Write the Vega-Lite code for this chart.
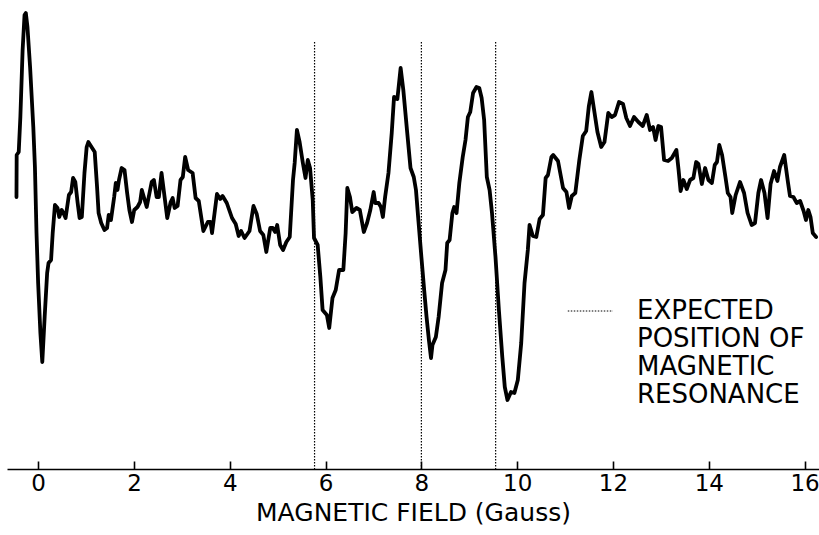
{
  "$schema": "https://vega.github.io/schema/vega-lite/v6.json",
  "width": 812,
  "height": 469,
  "autosize": {"type": "none"},
  "padding": {"left": 7, "top": 0, "right": 0, "bottom": 66},
  "background": "white",
  "config": {
    "view": {"stroke": null},
    "font": "DejaVu Sans",
    "axis": {"grid": false}
  },
  "layer": [
    {
      "data": {"values": [
        {"B": -0.452, "S": 272}, {"B": -0.448, "S": 314}, {"B": -0.405, "S": 317}, {"B": -0.371, "S": 352},
        {"B": -0.324, "S": 419}, {"B": -0.284, "S": 454}, {"B": -0.257, "S": 456}, {"B": -0.223, "S": 442},
        {"B": -0.168, "S": 402}, {"B": -0.101, "S": 342}, {"B": -0.067, "S": 302}, {"B": -0.034, "S": 236},
        {"B": 0.000, "S": 186}, {"B": 0.047, "S": 136}, {"B": 0.087, "S": 107}, {"B": 0.136, "S": 152},
        {"B": 0.188, "S": 196}, {"B": 0.217, "S": 206}, {"B": 0.270, "S": 209}, {"B": 0.304, "S": 236},
        {"B": 0.351, "S": 264}, {"B": 0.405, "S": 261}, {"B": 0.440, "S": 252}, {"B": 0.492, "S": 259},
        {"B": 0.527, "S": 256}, {"B": 0.573, "S": 251}, {"B": 0.642, "S": 274}, {"B": 0.689, "S": 277},
        {"B": 0.729, "S": 291}, {"B": 0.776, "S": 287}, {"B": 0.825, "S": 266}, {"B": 0.865, "S": 251},
        {"B": 0.912, "S": 252}, {"B": 0.967, "S": 296}, {"B": 1.013, "S": 322}, {"B": 1.048, "S": 327},
        {"B": 1.114, "S": 322}, {"B": 1.181, "S": 317}, {"B": 1.230, "S": 282}, {"B": 1.262, "S": 256},
        {"B": 1.317, "S": 246}, {"B": 1.384, "S": 239}, {"B": 1.439, "S": 241}, {"B": 1.473, "S": 254},
        {"B": 1.520, "S": 249}, {"B": 1.587, "S": 272}, {"B": 1.621, "S": 286}, {"B": 1.656, "S": 279},
        {"B": 1.688, "S": 289}, {"B": 1.743, "S": 301}, {"B": 1.803, "S": 299}, {"B": 1.858, "S": 276},
        {"B": 1.905, "S": 259}, {"B": 1.959, "S": 247}, {"B": 2.006, "S": 259}, {"B": 2.074, "S": 262},
        {"B": 2.129, "S": 267}, {"B": 2.164, "S": 279}, {"B": 2.267, "S": 262}, {"B": 2.370, "S": 287},
        {"B": 2.417, "S": 289}, {"B": 2.473, "S": 272}, {"B": 2.520, "S": 272}, {"B": 2.576, "S": 296},
        {"B": 2.629, "S": 276}, {"B": 2.695, "S": 251}, {"B": 2.767, "S": 267}, {"B": 2.808, "S": 271},
        {"B": 2.849, "S": 261}, {"B": 2.911, "S": 263}, {"B": 2.972, "S": 289}, {"B": 3.020, "S": 292},
        {"B": 3.069, "S": 312}, {"B": 3.131, "S": 299}, {"B": 3.225, "S": 296}, {"B": 3.287, "S": 271},
        {"B": 3.353, "S": 268}, {"B": 3.449, "S": 238}, {"B": 3.542, "S": 247}, {"B": 3.599, "S": 247},
        {"B": 3.630, "S": 236}, {"B": 3.733, "S": 275}, {"B": 3.801, "S": 270}, {"B": 3.850, "S": 273},
        {"B": 3.938, "S": 266}, {"B": 4.047, "S": 251}, {"B": 4.124, "S": 245}, {"B": 4.186, "S": 233},
        {"B": 4.237, "S": 238}, {"B": 4.309, "S": 231}, {"B": 4.412, "S": 238}, {"B": 4.495, "S": 263},
        {"B": 4.563, "S": 255}, {"B": 4.633, "S": 238}, {"B": 4.701, "S": 234}, {"B": 4.763, "S": 217},
        {"B": 4.845, "S": 241}, {"B": 4.897, "S": 241}, {"B": 4.948, "S": 237}, {"B": 4.990, "S": 244},
        {"B": 5.052, "S": 224}, {"B": 5.113, "S": 219}, {"B": 5.181, "S": 227}, {"B": 5.252, "S": 232},
        {"B": 5.320, "S": 289}, {"B": 5.355, "S": 306}, {"B": 5.402, "S": 339}, {"B": 5.458, "S": 327},
        {"B": 5.526, "S": 306}, {"B": 5.581, "S": 291}, {"B": 5.629, "S": 309}, {"B": 5.676, "S": 301},
        {"B": 5.732, "S": 269}, {"B": 5.759, "S": 231}, {"B": 5.835, "S": 224}, {"B": 5.891, "S": 192},
        {"B": 5.938, "S": 159}, {"B": 6.027, "S": 154}, {"B": 6.076, "S": 141}, {"B": 6.144, "S": 171},
        {"B": 6.212, "S": 179}, {"B": 6.282, "S": 199}, {"B": 6.371, "S": 199}, {"B": 6.419, "S": 236},
        {"B": 6.454, "S": 281}, {"B": 6.509, "S": 272}, {"B": 6.557, "S": 257}, {"B": 6.645, "S": 261},
        {"B": 6.715, "S": 259}, {"B": 6.798, "S": 237}, {"B": 6.866, "S": 246}, {"B": 6.934, "S": 259},
        {"B": 7.004, "S": 277}, {"B": 7.037, "S": 266}, {"B": 7.107, "S": 266}, {"B": 7.155, "S": 262},
        {"B": 7.196, "S": 252}, {"B": 7.243, "S": 272}, {"B": 7.313, "S": 296}, {"B": 7.381, "S": 336},
        {"B": 7.429, "S": 372}, {"B": 7.499, "S": 370}, {"B": 7.567, "S": 401}, {"B": 7.623, "S": 379},
        {"B": 7.705, "S": 336}, {"B": 7.773, "S": 301}, {"B": 7.841, "S": 292}, {"B": 7.887, "S": 279},
        {"B": 7.932, "S": 252}, {"B": 8.000, "S": 212}, {"B": 8.058, "S": 179}, {"B": 8.108, "S": 152},
        {"B": 8.157, "S": 129}, {"B": 8.201, "S": 111}, {"B": 8.231, "S": 124}, {"B": 8.302, "S": 132},
        {"B": 8.360, "S": 152}, {"B": 8.432, "S": 186}, {"B": 8.503, "S": 199}, {"B": 8.539, "S": 226},
        {"B": 8.589, "S": 229}, {"B": 8.647, "S": 256}, {"B": 8.684, "S": 262}, {"B": 8.734, "S": 256},
        {"B": 8.792, "S": 286}, {"B": 8.863, "S": 312}, {"B": 8.921, "S": 329}, {"B": 8.971, "S": 352},
        {"B": 9.020, "S": 357}, {"B": 9.079, "S": 376}, {"B": 9.150, "S": 382}, {"B": 9.208, "S": 381},
        {"B": 9.258, "S": 371}, {"B": 9.310, "S": 349}, {"B": 9.366, "S": 292}, {"B": 9.424, "S": 279},
        {"B": 9.474, "S": 256}, {"B": 9.547, "S": 212}, {"B": 9.618, "S": 159}, {"B": 9.689, "S": 112},
        {"B": 9.741, "S": 82}, {"B": 9.797, "S": 69}, {"B": 9.871, "S": 77}, {"B": 9.942, "S": 76},
        {"B": 10.013, "S": 89}, {"B": 10.084, "S": 126}, {"B": 10.153, "S": 186}, {"B": 10.222, "S": 219},
        {"B": 10.258, "S": 244}, {"B": 10.327, "S": 233}, {"B": 10.399, "S": 232}, {"B": 10.468, "S": 250},
        {"B": 10.537, "S": 254}, {"B": 10.594, "S": 291}, {"B": 10.642, "S": 294}, {"B": 10.714, "S": 312},
        {"B": 10.751, "S": 314}, {"B": 10.852, "S": 308}, {"B": 10.957, "S": 281}, {"B": 11.028, "S": 277},
        {"B": 11.083, "S": 261}, {"B": 11.140, "S": 273}, {"B": 11.213, "S": 276}, {"B": 11.297, "S": 309},
        {"B": 11.370, "S": 333}, {"B": 11.440, "S": 338}, {"B": 11.496, "S": 363}, {"B": 11.549, "S": 377},
        {"B": 11.612, "S": 357}, {"B": 11.675, "S": 337}, {"B": 11.754, "S": 322}, {"B": 11.822, "S": 327},
        {"B": 11.901, "S": 356}, {"B": 11.973, "S": 352}, {"B": 12.042, "S": 354}, {"B": 12.125, "S": 367},
        {"B": 12.209, "S": 365}, {"B": 12.278, "S": 351}, {"B": 12.355, "S": 343}, {"B": 12.439, "S": 352},
        {"B": 12.529, "S": 347}, {"B": 12.621, "S": 343}, {"B": 12.704, "S": 354}, {"B": 12.773, "S": 339},
        {"B": 12.836, "S": 342}, {"B": 12.888, "S": 329}, {"B": 12.947, "S": 343}, {"B": 13.003, "S": 342},
        {"B": 13.066, "S": 309}, {"B": 13.149, "S": 308}, {"B": 13.227, "S": 311}, {"B": 13.323, "S": 319},
        {"B": 13.369, "S": 299}, {"B": 13.411, "S": 278}, {"B": 13.469, "S": 289}, {"B": 13.540, "S": 280},
        {"B": 13.609, "S": 289}, {"B": 13.678, "S": 291}, {"B": 13.735, "S": 307}, {"B": 13.783, "S": 305},
        {"B": 13.854, "S": 285}, {"B": 13.923, "S": 301}, {"B": 13.992, "S": 289}, {"B": 14.064, "S": 286},
        {"B": 14.123, "S": 304}, {"B": 14.170, "S": 307}, {"B": 14.219, "S": 324}, {"B": 14.277, "S": 314},
        {"B": 14.347, "S": 292}, {"B": 14.396, "S": 276}, {"B": 14.453, "S": 272}, {"B": 14.489, "S": 256},
        {"B": 14.560, "S": 274}, {"B": 14.651, "S": 287}, {"B": 14.736, "S": 276}, {"B": 14.809, "S": 256},
        {"B": 14.894, "S": 244}, {"B": 14.964, "S": 246}, {"B": 15.034, "S": 276}, {"B": 15.091, "S": 289},
        {"B": 15.162, "S": 276}, {"B": 15.226, "S": 251}, {"B": 15.289, "S": 285}, {"B": 15.362, "S": 298},
        {"B": 15.432, "S": 288}, {"B": 15.485, "S": 302}, {"B": 15.574, "S": 314}, {"B": 15.651, "S": 287},
        {"B": 15.694, "S": 273}, {"B": 15.766, "S": 272}, {"B": 15.836, "S": 266}, {"B": 15.906, "S": 268},
        {"B": 15.979, "S": 258}, {"B": 16.028, "S": 249}, {"B": 16.077, "S": 259}, {"B": 16.123, "S": 252},
        {"B": 16.170, "S": 236}, {"B": 16.240, "S": 232}
      ]},
      "mark": {"type": "line", "color": "black", "strokeWidth": 3.8, "strokeJoin": "round", "strokeCap": "round"},
      "encoding": {
        "x": {
          "field": "B", "type": "quantitative",
          "scale": {"domain": [-0.65, 16.3], "nice": false, "zero": false},
          "axis": {
            "title": "MAGNETIC FIELD  (Gauss)",
            "values": [0, 2, 4, 6, 8, 10, 12, 14, 16],
            "domainColor": "black", "domainWidth": 1.6,
            "tickColor": "black", "tickWidth": 1.6, "tickSize": -8,
            "labelColor": "black", "labelFontSize": 23, "labelFont": "DejaVu Sans",
            "labelPadding": 11, "labelFontWeight": "normal",
            "titleColor": "black", "titleFontSize": 25, "titleFont": "DejaVu Sans",
            "titleFontWeight": "normal", "titlePadding": 5
          }
        },
        "y": {
          "field": "S", "type": "quantitative",
          "scale": {"domain": [0, 469], "nice": false, "zero": true},
          "axis": null
        }
      }
    },
    {
      "data": {"values": [{"resonance": 5.77}, {"resonance": 8.0}, {"resonance": 9.55}]},
      "mark": {"type": "rule", "color": "black", "strokeWidth": 1.2, "strokeDash": [1.5, 1.5]},
      "encoding": {
        "x": {"field": "resonance", "type": "quantitative"},
        "y": {"datum": 427},
        "y2": {"datum": 0}
      }
    },
    {
      "data": {"values": [{}]},
      "mark": {"type": "rule", "color": "black", "strokeWidth": 1, "strokeDash": [1.5, 1.5]},
      "encoding": {
        "x": {"datum": 11.056},
        "x2": {"datum": 12.0},
        "y": {"datum": 158}
      }
    },
    {
      "data": {"values": [{}]},
      "mark": {
        "type": "text", "align": "left", "baseline": "alphabetic",
        "font": "DejaVu Sans", "fontSize": 26, "lineHeight": 28, "color": "black",
        "text": ["EXPECTED", "POSITION OF", "MAGNETIC", "RESONANCE"]
      },
      "encoding": {
        "x": {"datum": 12.5},
        "y": {"datum": 150}
      }
    }
  ]
}
